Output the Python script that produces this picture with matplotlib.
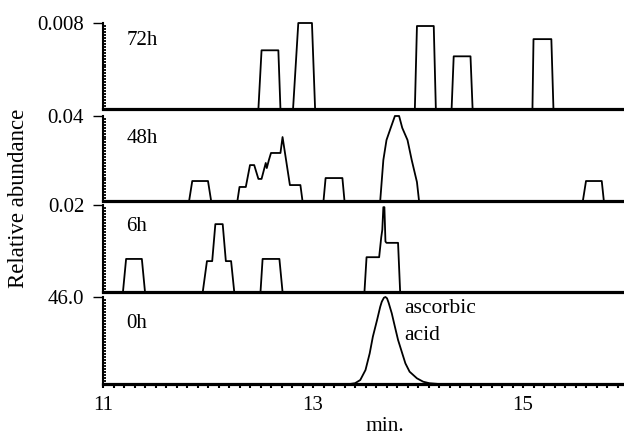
import numpy as np
import matplotlib
matplotlib.use("Agg")
import matplotlib.pyplot as plt
from matplotlib.ticker import MultipleLocator

plt.rcParams['font.family'] = ['Liberation Serif', 'DejaVu Serif']

# retention time (min.) / relative abundance
t72 = [11.0, 12.48, 12.51, 12.67, 12.69, 12.81, 12.86, 12.99, 13.02, 13.97, 13.99, 14.15, 14.17,
       14.32, 14.34, 14.5, 14.52, 15.09, 15.1, 15.27, 15.29, 15.95]
y72 = [0, 0, 0.00546, 0.00546, 0, 0, 0.008, 0.008, 0, 0, 0.00772, 0.00772, 0,
       0, 0.0049, 0.0049, 0, 0, 0.0065, 0.0065, 0, 0]

t48 = [11.0, 11.82, 11.85, 12.0, 12.03, 12.28, 12.3, 12.36, 12.4, 12.44, 12.48, 12.51, 12.55,
       12.56, 12.58, 12.6, 12.69, 12.71, 12.78, 12.88, 12.9, 13.1, 13.12, 13.28, 13.3, 13.64,
       13.67, 13.7, 13.74, 13.78, 13.82, 13.85, 13.9, 13.94, 13.99, 14.01, 15.57, 15.6, 15.75,
       15.77, 15.95]
y48 = [0, 0, 0.0094, 0.0094, 0, 0, 0.0066, 0.0066, 0.0169, 0.0169, 0.0104, 0.0104, 0.0179,
       0.0155, 0.0193, 0.0226, 0.0226, 0.0301, 0.0075, 0.0075, 0, 0, 0.0108, 0.0108, 0, 0,
       0.0193, 0.0287, 0.0344, 0.04, 0.04, 0.0344, 0.0287, 0.0193, 0.0089, 0, 0, 0.0094, 0.0094,
       0, 0]

t6 = [11.0, 11.19, 11.22, 11.37, 11.4, 11.95, 11.99, 12.04, 12.07, 12.14, 12.17, 12.22, 12.25,
      12.5, 12.52, 12.68, 12.71, 13.49, 13.51, 13.63, 13.65, 13.66, 13.67, 13.68, 13.69, 13.7,
      13.81, 13.83, 15.95]
y6 = [0, 0, 0.0076, 0.0076, 0, 0, 0.0071, 0.0071, 0.0156, 0.0156, 0.0071, 0.0071, 0,
      0, 0.0076, 0.0076, 0, 0, 0.008, 0.008, 0.0126, 0.0143, 0.0195, 0.0195, 0.0116, 0.0113,
      0.0113, 0, 0]

t0 = [11.0, 13.35, 13.4, 13.45, 13.5, 13.54, 13.57, 13.61, 13.64, 13.655, 13.675, 13.69, 13.705,
      13.72, 13.75, 13.78, 13.81, 13.85, 13.88, 13.92, 13.99, 14.05, 14.11, 14.2, 15.95]
y0 = [0, 0, 0.4, 2.1, 7.4, 16.2, 25.0, 33.8, 40.8, 43.5, 45.6, 46.0, 45.3,
      43.0, 37.4, 30.3, 23.3, 16.2, 10.9, 6.5, 3.0, 1.2, 0.4, 0, 0]

labels = ['72h', '48h', '6h', '0h']
ymax = [0.008, 0.04, 0.02, 46.0]
ymax_txt = ['0.008', '0.04', '0.02', '46.0']
series = [(t72, y72), (t48, y48), (t6, y6), (t0, y0)]

# panel extents in pixels (top, bottom)
W, H = 624, 438
panels = [(23, 109), (116, 201), (205, 292), (297, 384)]
label_y = [0.80, 0.735, 0.75, 0.70]
x0, x1 = 103, 623
px_per_min = 105.0

fig = plt.figure(figsize=(W / 100, H / 100), dpi=100)

for i in range(4):
    top, bot = panels[i]
    ax = fig.add_axes([x0 / W, 1 - bot / H, (x1 - x0) / W, (bot - top) / H])
    t, y = series[i]
    ax.plot(t, y, color='black', lw=1.3, clip_on=False)
    ax.set_xlim(11, 11 + (x1 - x0) / px_per_min)
    ax.set_ylim(0, ymax[i])
    ax.patch.set_visible(False)

    for s in ['top', 'right']:
        ax.spines[s].set_visible(False)
    ax.spines['left'].set_linewidth(1.5)
    ax.spines['bottom'].set_linewidth(2.3)

    ax.set_yticks([ymax[i]], [ymax_txt[i]])
    ax.set_yticks(np.linspace(0, ymax[i], 30), minor=True)
    ax.tick_params(axis='y', which='major', direction='out', length=7.5, width=1,
                   pad=6, labelsize=15)
    ax.tick_params(axis='y', which='minor', direction='in', length=2.3, width=1.3)

    if i == 3:
        ax.set_xticks([11, 13, 15])
        ax.xaxis.set_minor_locator(MultipleLocator(0.1))
        ax.tick_params(axis='x', which='both', direction='out', length=3, width=1.5,
                       pad=6, labelsize=15)
        ax.text(13.867, 0.816 * ymax[i], 'ascorbic', fontsize=15.5, va='baseline')
        ax.text(13.867, 0.506 * ymax[i], 'acid', fontsize=15.5, va='baseline')
    else:
        ax.tick_params(axis='x', which='both', bottom=False, labelbottom=False)

    ax.text(0.045, label_y[i], labels[i], transform=ax.transAxes, fontsize=15,
            ha='left', va='center')

fig.text(19 / W, 1 - 198 / H, 'Relative abundance', rotation=90, fontsize=16.4,
         ha='center', va='center')
fig.text(385 / W, 2 / H, 'min.', fontsize=15.5, ha='center', va='bottom')

fig.savefig('out.png', dpi=100)
